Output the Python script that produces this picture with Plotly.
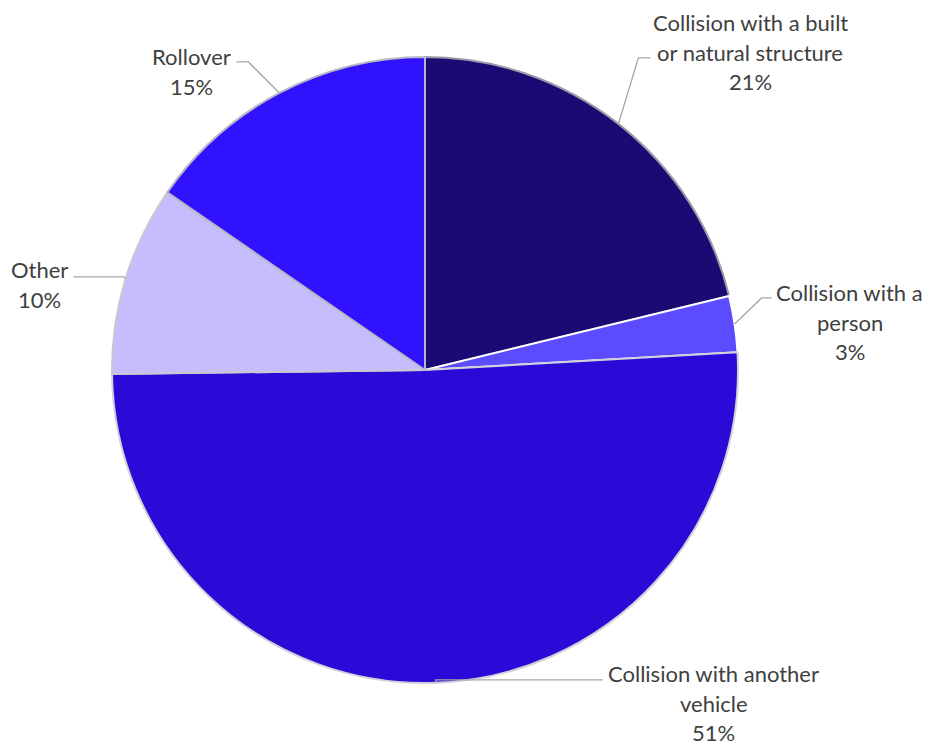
import math
import plotly.graph_objects as go

# ---- data ----
categories = ["Collision with a built or natural structure", "Collision with a person",
              "Collision with another vehicle", "Other", "Rollover"]
label_lines = [["Collision with a built", "or natural structure"],
               ["Collision with a", "person"],
               ["Collision with another", "vehicle"],
               ["Other"],
               ["Rollover"]]
values = [21.2, 2.9, 50.7, 9.8, 15.4]
colors = ["#1b0a74", "#5c4cff", "#2a0ad6", "#c6bdff", "#3012ff"]
edge_colors = ["#9a9aa8", "#ffffff", "#d0d0da", "#c8c8d0", "#b8b8c4"]

# ---- layout / style ----
W, H = 929, 749
CX, CY, R = 425, 370, 313
FONT = "Lato"
FS = 22
LINE_H = 29.5
# leader style per label: (elbow dx, elbow dy, horizontal run, text dx, first-line dy)
leader_style = [(20, -66, 12, 100, -35),
                (27, -26, 10, 78, -5),
                (0, -3, 167, 111, -6),
                (-2, -2, -50, -34, -7),
                (-31, -31, -12, -45, -5)]


def px(x, y):
    return x / W, 1 - y / H


fig = go.Figure()
x0, _ = px(CX - R, 0)
x1, _ = px(CX + R, 0)
_, y1 = px(0, CY - R)
_, y0 = px(0, CY + R)
fig.add_trace(go.Pie(
    labels=categories, values=values, sort=False, direction="clockwise", rotation=0,
    marker=dict(colors=colors, line=dict(color=edge_colors, width=2)),
    textinfo="none", hoverinfo="label+percent", showlegend=False,
    domain=dict(x=[x0, x1], y=[y0, y1]),
))

total = sum(values)
cum = 0.0
shapes, annotations = [], []
for i, v in enumerate(values):
    mid = (cum + v / 2) / total * 2 * math.pi
    cum += v
    ax = CX + R * math.sin(mid)
    ay = CY - R * math.cos(mid)
    dx1, dy1, run, tdx, tdy = leader_style[i]
    ex, ey = ax + dx1, ay + dy1
    fx, fy = ex + run, ey
    p0, p1, p2 = px(ax, ay), px(ex, ey), px(fx, fy)
    shapes.append(dict(type="path", xref="paper", yref="paper",
                       path=f"M {p0[0]},{p0[1]} L {p1[0]},{p1[1]} L {p2[0]},{p2[1]}",
                       line=dict(color="#a6a6a6", width=1.3)))
    pct = f"{round(v / total * 100)}%"
    lines = label_lines[i] + [pct]
    for j, t in enumerate(lines):
        tx, ty = px(fx + tdx, fy + tdy + j * LINE_H)
        annotations.append(dict(x=tx, y=ty, xref="paper", yref="paper", text=t,
                                showarrow=False, xanchor="center", yanchor="middle",
                                borderpad=0,
                                font=dict(family=FONT, size=FS, color="#404040")))

fig.update_layout(width=W, height=H, margin=dict(l=0, r=0, t=0, b=0),
                  paper_bgcolor="white", plot_bgcolor="white",
                  shapes=shapes, annotations=annotations)
fig.write_html("out.html", config={"displayModeBar": False},
               post_script="document.body.style.margin='0';")
